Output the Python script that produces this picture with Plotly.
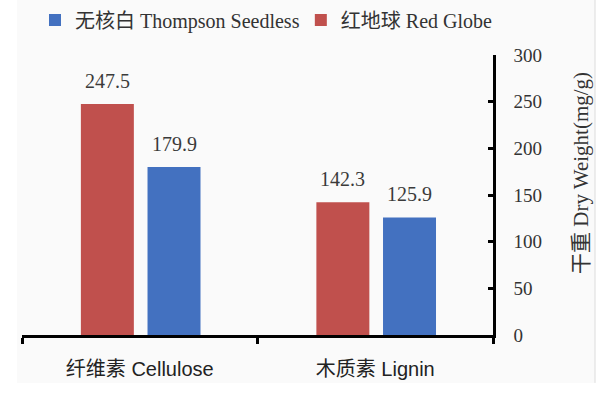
import plotly.graph_objects as go

categories = ["纤维素 Cellulose", "木质素 Lignin"]
red_globe = [247.5, 142.3]
thompson = [179.9, 125.9]
red_name = "红地球 Red Globe"
blue_name = "无核白 Thompson Seedless"
y_ticks = [0, 50, 100, 150, 200, 250, 300]
y_title = "干重 Dry Weight(mg/g)"

serif = "Liberation Serif, Times New Roman, Noto Sans CJK SC, serif"
sans = "Liberation Sans, Arial, Noto Sans CJK SC, sans-serif"

bar_w = 0.225
red_off = -0.25
blue_off = 0.033

fig = go.Figure()
fig.add_trace(go.Bar(
    x=categories, y=red_globe, name=red_name, legend="legend2",
    marker=dict(color="#C0504D", line=dict(width=0)),
    width=bar_w, offset=red_off,
))
fig.add_trace(go.Bar(
    x=categories, y=thompson, name=blue_name, legend="legend",
    marker=dict(color="#4371C0", line=dict(width=0)),
    width=bar_w, offset=blue_off,
))

annotations = []
for off, vals in ((red_off, red_globe), (blue_off, thompson)):
    for i, v in enumerate(vals):
        annotations.append(dict(
            x=i + off + bar_w / 2, y=v, xref="x", yref="y",
            text=f"{v:.1f}", showarrow=False, yanchor="bottom", yshift=10,
            font=dict(family=serif, size=20, color="#3a3a3a"),
        ))
annotations.append(dict(
    x=1.187, y=0.579, xref="paper", yref="paper", text=y_title,
    showarrow=False, textangle=-90, xanchor="center", yanchor="middle",
    font=dict(family=serif, size=21, color="#333333"),
))

legend_style = dict(orientation="h", y=1.125, xanchor="left", yanchor="middle",
                    font=dict(family=serif, size=20, color="#333333"),
                    itemwidth=30, bgcolor="rgba(0,0,0,0)")

fig.update_layout(
    width=611, height=395,
    margin=dict(l=22, r=118, t=55, b=60, autoexpand=False),
    paper_bgcolor="#FFFFFF", plot_bgcolor="rgba(0,0,0,0)",
    barmode="overlay",
    showlegend=True,
    legend=dict(x=0.0276, **legend_style),
    legend2=dict(x=0.592, **legend_style),
    font=dict(family=serif, color="#333333"),
    annotations=annotations,
    shapes=[
        dict(type="rect", xref="paper", yref="paper", x0=-0.0106, x1=1.2166, y0=-0.171, y1=1.2,
             fillcolor="#FAFAFA", line=dict(width=0), layer="below"),
        dict(type="line", xref="paper", yref="paper", x0=1.2166, x1=1.2166, y0=-0.171, y1=1.2,
             line=dict(color="#DCDCDC", width=1), layer="below"),
    ],
)
fig.update_xaxes(
    showline=True, linecolor="#000000", linewidth=2.5,
    ticks="outside", tickson="boundaries", ticklen=6, tickwidth=2.5, tickcolor="#000000",
    tickfont=dict(family=sans, size=20, color="#222222"),
    ticklabelstandoff=14,
    showgrid=False, zeroline=False,
)
fig.update_yaxes(
    side="right", range=[0, 300], tickvals=y_ticks,
    showline=True, linecolor="#000000", linewidth=2.5,
    ticks="inside", ticklen=5, tickwidth=2.5, tickcolor="#000000",
    tickfont=dict(family=serif, size=19, color="#333333"),
    ticklabelstandoff=14,
    showgrid=False, zeroline=False,
)
fig.write_html("out.html")
